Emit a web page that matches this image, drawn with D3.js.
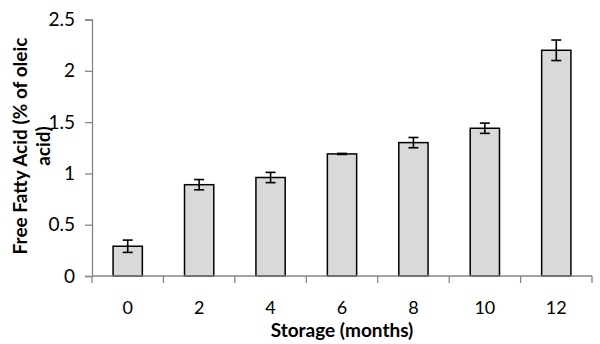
<!DOCTYPE html>
<html><head><meta charset="utf-8">
<script src="https://cdn.jsdelivr.net/npm/d3@7"></script>
<style>body{margin:0;background:#fff}svg{display:block}</style>
</head><body>
<script>
const categories = ["0","2","4","6","8","10","12"];
const values = [0.29, 0.89, 0.96, 1.19, 1.30, 1.44, 2.20];
const errors = [0.06, 0.05, 0.05, 0.005, 0.05, 0.05, 0.10];
const yTicks = [0, 0.5, 1, 1.5, 2, 2.5];
const yTitle = ["Free Fatty Acid (% of oleic", "acid)"];
const xTitle = "Storage (months)";

const W = 600, H = 344;
const font = "Lato, 'Open Sans', sans-serif";
const svg = d3.select("body").append("svg").attr("width", W).attr("height", H);

const x = d3.scaleBand().domain(categories).range([92, 592]).paddingInner(0.59).paddingOuter(0.295);
const y = d3.scaleLinear().domain([0, 2.5]).range([276, 19.5]);
const axisColor = "#868686";

// y axis
const ya = svg.append("g").attr("transform", "translate(92,0)")
  .call(d3.axisLeft(y).tickValues(yTicks).tickFormat(d3.format("~g")).tickSize(7).tickPadding(10));
ya.select(".domain").attr("stroke", axisColor).attr("stroke-width", 1.3);
ya.selectAll(".tick line").attr("stroke", axisColor).attr("stroke-width", 1.3);
ya.selectAll(".tick text").attr("font-family", font).attr("font-size", 19).attr("fill", "#000");

// bars
svg.append("g").selectAll("rect").data(categories).join("rect")
  .attr("x", d => x(d)).attr("width", x.bandwidth())
  .attr("y", (d, i) => y(values[i])).attr("height", (d, i) => y(0) - y(values[i]))
  .attr("fill", "#d9d9d9").attr("stroke", "#000").attr("stroke-width", 1.5);

// error bars
const eb = svg.append("g").attr("stroke", "#000").attr("stroke-width", 1.6);
categories.forEach((c, i) => {
  const cx = x(c) + x.bandwidth() / 2;
  const t = y(values[i] + errors[i]), b = y(values[i] - errors[i]);
  eb.append("line").attr("x1", cx).attr("x2", cx).attr("y1", t).attr("y2", b);
  eb.append("line").attr("x1", cx - 5).attr("x2", cx + 5).attr("y1", t).attr("y2", t);
  eb.append("line").attr("x1", cx - 5).attr("x2", cx + 5).attr("y1", b).attr("y2", b);
});

// x axis
const xa = svg.append("g").attr("transform", "translate(0,276)");
xa.append("line").attr("x1", 92).attr("x2", 592).attr("stroke", axisColor).attr("stroke-width", 1.3);
const bounds = categories.map(c => x(c) - x.step() * x.paddingInner() / 2).concat([592]);
bounds[0] = 92;
xa.selectAll("line.tk").data(bounds).join("line").attr("class", "tk")
  .attr("x1", d => d).attr("x2", d => d).attr("y1", 0).attr("y2", 7)
  .attr("stroke", axisColor).attr("stroke-width", 1.3);
xa.selectAll("text").data(categories).join("text")
  .attr("x", d => x(d) + x.bandwidth() / 2).attr("y", 38)
  .attr("text-anchor", "middle").attr("font-family", font).attr("font-size", 18).text(d => d);

// titles
svg.append("text").attr("x", 342).attr("y", 337).attr("text-anchor", "middle")
  .attr("font-family", font).attr("font-size", 19).attr("font-weight", "bold").text(xTitle);
const yt = svg.append("text").attr("transform", "translate(0,146) rotate(-90)")
  .attr("text-anchor", "middle").attr("font-family", font).attr("font-size", 19).attr("font-weight", "bold");
yTitle.forEach((l, i) => yt.append("tspan").attr("x", 0).attr("y", 27 + i * 23).text(l));
</script>
</body></html>
